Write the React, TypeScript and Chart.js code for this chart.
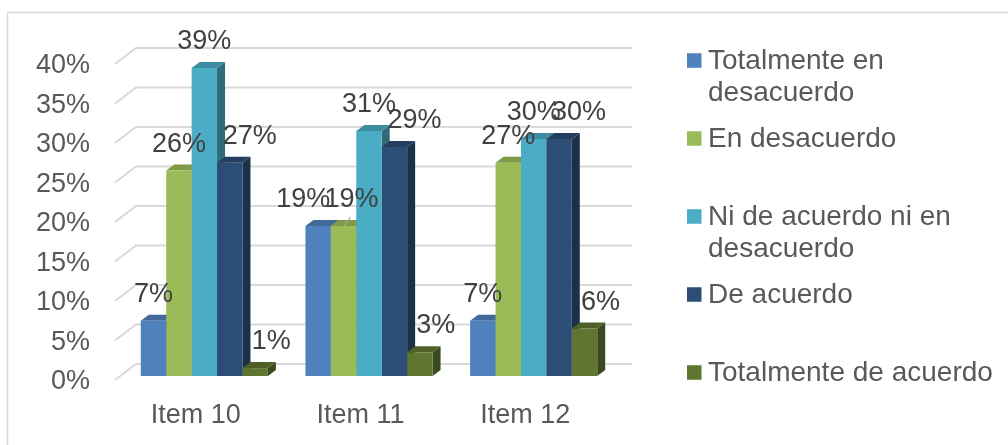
import React, { useEffect, useRef } from "react";
import { Chart, registerables } from "chart.js";

Chart.register(...registerables);

// ---------- data ----------
const categories = ["Item 10", "Item 11", "Item 12"];
const seriesNames = [
  "Totalmente en desacuerdo",
  "En desacuerdo",
  "Ni de acuerdo ni en desacuerdo",
  "De acuerdo",
  "Totalmente de acuerdo",
];
const legendLines = [
  ["Totalmente en", "desacuerdo"],
  ["En desacuerdo"],
  ["Ni de acuerdo ni en", "desacuerdo"],
  ["De acuerdo"],
  ["Totalmente de acuerdo"],
];
const totalmenteEnDesacuerdo = [7, 19, 7];
const enDesacuerdo = [26, 19, 27];
const niDeAcuerdoNiEnDesacuerdo = [39, 31, 30];
const deAcuerdo = [27, 29, 30];
const totalmenteDeAcuerdo = [1, 3, 6];
const yTicks = [0, 5, 10, 15, 20, 25, 30, 35, 40];

// ---------- style ----------
const frontColors = ["#4F81BD", "#9BBB59", "#4BACC6", "#2C4D75", "#5F7530"];
const FONT = '"Liberation Sans", Arial, sans-serif';
const DEPTH = { dx: 8, dy: -6 };
const WALL = { dx: 16, dy: -12 };
const FLOOR = { dx: -5, dy: 4 };
// label nudges (series-level and a couple of overlap fixes, like the original)
const seriesLabelShift = [0, 0, 0, 20, 16];
const pointLabelShift: Record<string, number> = { "0-1": -15, "1-1": 8 };

function shade(hex: string, f: number) {
  const n = parseInt(hex.slice(1), 16);
  const r = Math.round(((n >> 16) & 255) * f);
  const g = Math.round(((n >> 8) & 255) * f);
  const b = Math.round((n & 255) * f);
  return `rgb(${r},${g},${b})`;
}

function poly(ctx: CanvasRenderingContext2D, pts: number[][], color: string) {
  ctx.beginPath();
  ctx.moveTo(pts[0][0], pts[0][1]);
  for (let i = 1; i < pts.length; i++) ctx.lineTo(pts[i][0], pts[i][1]);
  ctx.closePath();
  ctx.fillStyle = color;
  ctx.fill();
}

const threeDPlugin = {
  id: "threeD",
  beforeDatasetsDraw(chart: any) {
    const { ctx, chartArea: a } = chart;
    const y = chart.scales.y;
    const x = chart.scales.x;
    ctx.save();
    // outer border
    ctx.strokeStyle = "#d9d9d9";
    ctx.lineWidth = 1.5;
    ctx.strokeRect(7.5, 12.5, 1010, 450);

    // gridlines (side wall + back wall)
    ctx.strokeStyle = "#d9d9d9";
    ctx.lineWidth = 2;
    const bl = a.left - 2;
    for (const v of yTicks) {
      const yy = y.getPixelForValue(v);
      ctx.beginPath();
      ctx.moveTo(bl + FLOOR.dx, yy + FLOOR.dy);
      ctx.lineTo(bl + WALL.dx, yy + WALL.dy);
      ctx.lineTo(a.right + WALL.dx, yy + WALL.dy);
      ctx.stroke();
    }

    // y tick labels
    ctx.fillStyle = "#595959";
    ctx.font = `27px ${FONT}`;
    ctx.textAlign = "right";
    ctx.textBaseline = "middle";
    for (const v of yTicks) {
      ctx.fillText(`${v}%`, 90, y.getPixelForValue(v) + 6);
    }

    // category labels (floor front edge)
    ctx.textAlign = "center";
    categories.forEach((c, i) => {
      const cx = x.getPixelForValue(i);
      ctx.fillText(c, cx + FLOOR.dx - 3.5, a.bottom + 40);
    });

    // legend
    ctx.textAlign = "left";
    ctx.font = `28px ${FONT}`;
    legendLines.forEach((lines, i) => {
      const sy = 60.5 + 78 * i;
      ctx.fillStyle = frontColors[i];
      ctx.fillRect(687, sy - 7.25, 14.5, 14.5);
      ctx.fillStyle = "#595959";
      lines.forEach((t, j) => ctx.fillText(t, 708, sy + 0.5 + 32 * j));
    });

    // 3D sides and tops
    const n = chart.data.datasets.length;
    categories.forEach((_, i) => {
      for (let d = 0; d < n; d++) {
        const el = chart.getDatasetMeta(d).data[i];
        const p = el.getProps(["x", "y", "base", "width"], true);
        const left = p.x - p.width / 2;
        const right = p.x + p.width / 2;
        const top = p.y;
        const base = p.base;
        const col = frontColors[d];
        poly(
          ctx,
          [
            [right, top],
            [right + DEPTH.dx, top + DEPTH.dy],
            [right + DEPTH.dx, base + DEPTH.dy],
            [right, base],
          ],
          shade(col, 0.62)
        );
        poly(
          ctx,
          [
            [left, top],
            [right, top],
            [right + DEPTH.dx, top + DEPTH.dy],
            [left + DEPTH.dx, top + DEPTH.dy],
          ],
          shade(col, 0.82)
        );
      }
    });
    ctx.restore();
  },
  afterDatasetsDraw(chart: any) {
    const { ctx } = chart;
    ctx.save();
    ctx.font = `27px ${FONT}`;
    ctx.fillStyle = "#404040";
    ctx.textAlign = "center";
    ctx.textBaseline = "middle";
    chart.data.datasets.forEach((ds: any, d: number) => {
      const meta = chart.getDatasetMeta(d);
      meta.data.forEach((el: any, i: number) => {
        const p = el.getProps(["x", "y"], true);
        const key = `${d}-${i}`;
        const shift = key in pointLabelShift ? pointLabelShift[key] : seriesLabelShift[d];
        const lx = p.x + shift;
        const ly = p.y - 26.5;
        if (key === "1-1") {
          ctx.strokeStyle = "#a6a6a6";
          ctx.lineWidth = 1.2;
          ctx.beginPath();
          ctx.moveTo(p.x, p.y);
          ctx.lineTo(lx - 1, ly + 18);
          ctx.stroke();
        }
        ctx.fillText(`${ds.data[i]}%`, lx, ly);
      });
    });
    ctx.restore();
  },
};

export default function App() {
  const ref = useRef<HTMLCanvasElement | null>(null);
  useEffect(() => {
    if (!ref.current) return;
    const series = [
      totalmenteEnDesacuerdo,
      enDesacuerdo,
      niDeAcuerdoNiEnDesacuerdo,
      deAcuerdo,
      totalmenteDeAcuerdo,
    ];
    const chart = new Chart(ref.current, {
      type: "bar",
      data: {
        labels: categories,
        datasets: series.map((s, i) => ({
          label: seriesNames[i],
          data: s,
          backgroundColor: frontColors[i],
          borderWidth: 0,
          categoryPercentage: 0.772,
          barPercentage: 1,
        })),
      },
      options: {
        responsive: false,
        animation: false,
        layout: { padding: { left: 122, right: 392, top: 60, bottom: 69 } },
        plugins: { legend: { display: false }, tooltip: { enabled: false } },
        scales: {
          x: { display: false },
          y: { display: false, min: 0, max: 40 },
        },
      },
      plugins: [threeDPlugin],
    });
    return () => chart.destroy();
  }, []);
  return (
    <div style={{ position: "absolute", left: 0, top: 0, width: 1008, height: 445, background: "#fff" }}>
      <canvas ref={ref} width={1008} height={445} />
    </div>
  );
}
